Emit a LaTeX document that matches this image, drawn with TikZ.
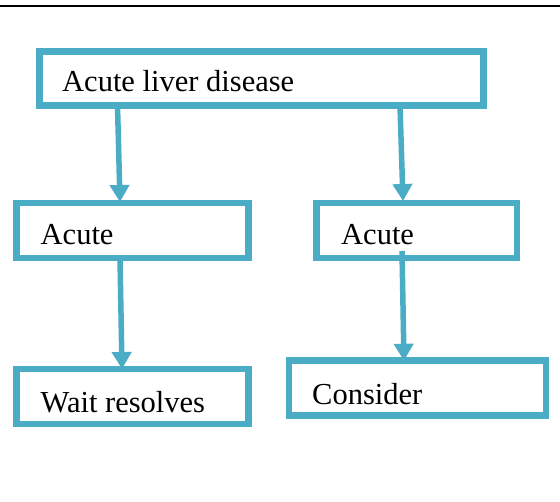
\documentclass[tikz,border=0pt]{standalone}
\usepackage{fontspec}
\setmainfont{Liberation Serif}
\usetikzlibrary{arrows.meta}
\definecolor{boxblue}{HTML}{4BACC6}
\begin{document}
\begin{tikzpicture}[x=1pt,y=-1pt,
  flowbox/.style={draw=boxblue,line width=6.5pt,rectangle,inner sep=0pt,outer sep=0pt,fill=white},
  boxtext/.style={anchor=base west,inner sep=0pt,font=\fontsize{30.5}{36}\selectfont},
  flowarrow/.style={draw=boxblue,line width=5.5pt,-{Triangle[length=17pt,width=19pt]}}]
  \useasboundingbox (0,0) rectangle (560,502);
  % rule across the top
  \draw[line width=2.5pt] (0,6) -- (560,6);
  % boxes
  \node[flowbox,minimum width=444pt,minimum height=53.8pt] (liver) at (261.5,78.6) {};
  \node[flowbox,minimum width=232.4pt,minimum height=55pt] (acuteL) at (132.5,230.5) {};
  \node[flowbox,minimum width=200.7pt,minimum height=55pt] (acuteR) at (416.65,230.5) {};
  \node[flowbox,minimum width=232.4pt,minimum height=55pt] (wait) at (132.5,396.5) {};
  \node[flowbox,minimum width=257pt,minimum height=55pt] (consider) at (417.5,388.2) {};
  % labels
  \node[boxtext] (tliver) at (62,92) {Acute liver disease};
  \node[boxtext] (tacuteL) at (40.5,244.5) {Acute};
  \node[boxtext] (tacuteR) at (341,244.5) {Acute};
  \node[boxtext] (twait) at (40.5,413) {Wait resolves};
  \node[boxtext] (tconsider) at (312,405) {Consider};
  % connectors
  \draw[flowarrow] ([xshift=-144pt]liver.south) -- ([xshift=-12.5pt,yshift=1pt]acuteL.north);
  \draw[flowarrow] ([xshift=138.5pt]liver.south) -- ([xshift=-13.65pt,yshift=2pt]acuteR.north);
  \draw[flowarrow] ([xshift=-12.5pt]acuteL.south) -- ([xshift=-10.5pt]wait.north);
  \draw[flowarrow] ([xshift=-14.65pt,yshift=7pt]acuteR.south) -- ([xshift=-13.5pt]consider.north);
\end{tikzpicture}
\end{document}
